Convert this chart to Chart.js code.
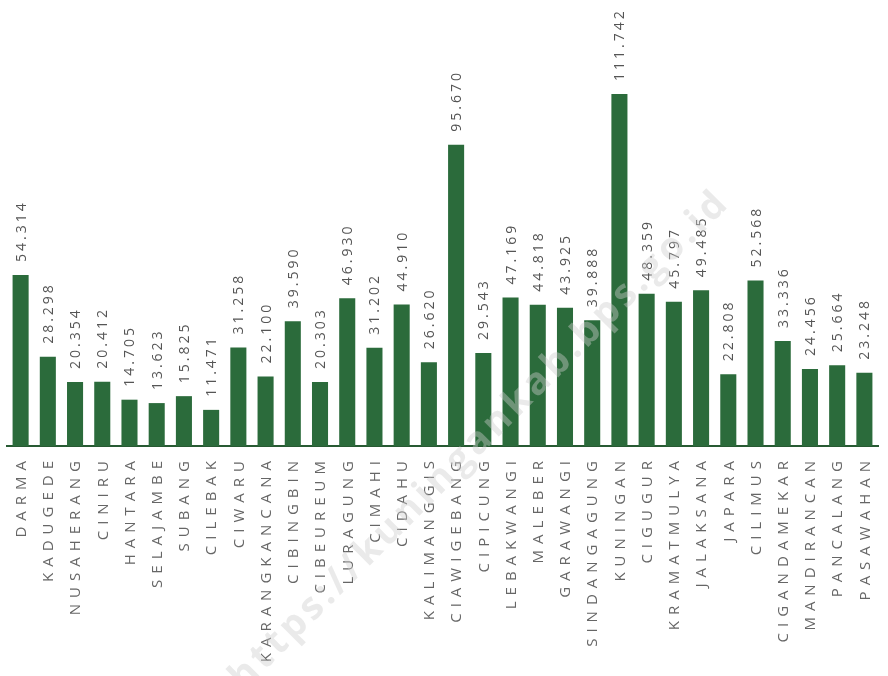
<!DOCTYPE html>
<html>
<head>
<meta charset="utf-8">
<script src="https://cdn.jsdelivr.net/npm/chart.js@4"></script>
<style>
html,body{margin:0;padding:0;background:#fff;}
#wrap{width:888px;height:676px;position:relative;}
</style>
</head>
<body>
<div id="wrap"><canvas id="c"></canvas></div>
<script>
const categories = ["DARMA","KADUGEDE","NUSAHERANG","CINIRU","HANTARA","SELAJAMBE","SUBANG","CILEBAK","CIWARU","KARANGKANCANA","CIBINGBIN","CIBEUREUM","LURAGUNG","CIMAHI","CIDAHU","KALIMANGGIS","CIAWIGEBANG","CIPICUNG","LEBAKWANGI","MALEBER","GARAWANGI","SINDANGAGUNG","KUNINGAN","CIGUGUR","KRAMATMULYA","JALAKSANA","JAPARA","CILIMUS","CIGANDAMEKAR","MANDIRANCAN","PANCALANG","PASAWAHAN"];
const values = [54314,28298,20354,20412,14705,13623,15825,11471,31258,22100,39590,20303,46930,31202,44910,26620,95670,29543,47169,44818,43925,39888,111742,48359,45797,49485,22808,52568,33336,24456,25664,23248];
const watermark = "https://kuningankab.bps.go.id";

function fmt(v){ return String(v).replace(/\B(?=(\d{3})+(?!\d))/g, "."); }

const labelPlugin = {
  id: 'labels',
  afterDatasetsDraw(chart){
    const ctx = chart.ctx;
    const meta = chart.getDatasetMeta(0);
    const xs = chart.scales.x;
    ctx.save();
    // value labels
    ctx.font = '14px "Open Sans", sans-serif';
    ctx.fillStyle = '#555';
    ctx.letterSpacing = '3px';
    ctx.textAlign = 'left';
    ctx.textBaseline = 'middle';
    meta.data.forEach((bar, i) => {
      ctx.save();
      ctx.translate(bar.x + 1, bar.y - 13);
      ctx.rotate(-Math.PI/2);
      ctx.fillText(fmt(values[i]), 0, 0);
      ctx.restore();
    });
    // category labels
    ctx.font = '15px "Open Sans", sans-serif';
    ctx.fillStyle = '#666';
    ctx.letterSpacing = '6px';
    ctx.textAlign = 'right';
    categories.forEach((c, i) => {
      const x = xs.getPixelForValue(i);
      ctx.save();
      ctx.translate(x + 1, xs.top + 9);
      ctx.rotate(-Math.PI/2);
      ctx.fillText(c, 0, 0);
      ctx.restore();
    });
    // watermark
    ctx.letterSpacing = '0px';
    ctx.font = 'bold 38px "Open Sans", sans-serif';
    const w = ctx.measureText(watermark).width;
    const sp = Math.max(0, (690 - w) / watermark.length);
    ctx.letterSpacing = sp.toFixed(2) + 'px';
    ctx.fillStyle = 'rgba(205,205,205,0.42)';
    ctx.textAlign = 'center';
    ctx.translate(480, 440);
    ctx.rotate(-Math.PI/4);
    ctx.fillText(watermark, 0, 0);
    ctx.restore();
  }
};

new Chart(document.getElementById('c'), {
  type: 'bar',
  data: {
    labels: categories,
    datasets: [{
      data: values,
      backgroundColor: '#2b6b3b',
      borderWidth: 0,
      barPercentage: 0.59,
      categoryPercentage: 1.0
    }]
  },
  options: {
    responsive: true,
    maintainAspectRatio: false,
    animation: false,
    devicePixelRatio: 1,
    layout: { padding: { left: 7, right: 10, top: 0, bottom: 0 } },
    plugins: { legend: { display: false }, tooltip: { enabled: false } },
    scales: {
      x: {
        grid: { display: false },
        border: { display: true, color: '#285a33', width: 2 },
        ticks: { display: false },
        afterFit(scale){ scale.height = 230; }
      },
      y: {
        display: false,
        min: 0,
        max: 141600
      }
    }
  },
  plugins: [labelPlugin]
});
</script>
</body>
</html>
